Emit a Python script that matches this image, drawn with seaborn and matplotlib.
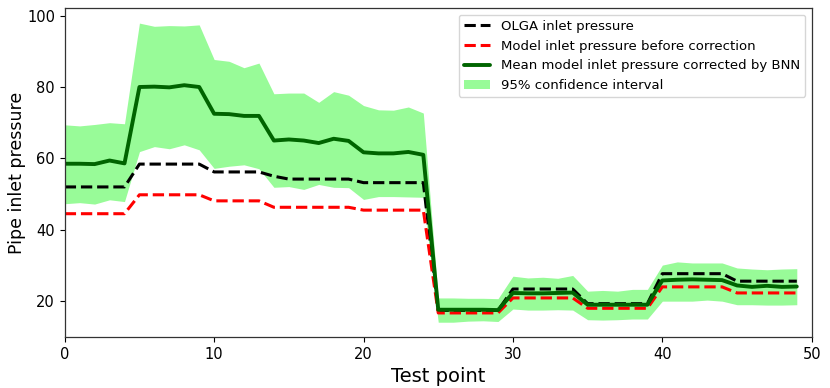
import numpy as np
import pandas as pd
import matplotlib
matplotlib.use("Agg")
import matplotlib.pyplot as plt
import seaborn as sns

test_point = list(range(50))
olga = [52.0, 52.0, 52.0, 52.0, 52.0, 58.4, 58.4, 58.4, 58.4, 58.4,
        56.2, 56.2, 56.2, 56.2, 55.0, 54.2, 54.2, 54.2, 54.2, 54.2,
        53.2, 53.2, 53.2, 53.2, 53.2, 17.4, 17.4, 17.4, 17.4, 17.4,
        23.4, 23.4, 23.4, 23.4, 23.4, 19.3, 19.3, 19.3, 19.3, 19.3,
        27.7, 27.7, 27.7, 27.7, 27.7, 25.6, 25.6, 25.6, 25.6, 25.6]
model = [44.5, 44.5, 44.5, 44.5, 44.5, 49.8, 49.8, 49.8, 49.8, 49.8,
         48.1, 48.1, 48.1, 48.1, 46.3, 46.3, 46.3, 46.3, 46.3, 46.3,
         45.5, 45.5, 45.5, 45.5, 45.5, 16.7, 16.7, 16.7, 16.7, 16.7,
         20.9, 20.9, 20.9, 20.9, 20.9, 18.0, 18.0, 18.0, 18.0, 18.0,
         24.0, 24.0, 24.0, 24.0, 24.0, 22.3, 22.3, 22.3, 22.3, 22.3]
bnn_mean = [58.5, 58.5, 58.4, 59.4, 58.6, 80.0, 80.1, 79.9, 80.5, 80.0,
            72.5, 72.4, 71.9, 71.9, 65.0, 65.3, 65.0, 64.3, 65.5, 64.9,
            61.7, 61.4, 61.4, 61.8, 61.0, 17.6, 17.6, 17.6, 17.6, 17.5,
            22.3, 22.2, 22.2, 22.3, 22.4, 19.0, 19.0, 19.0, 19.0, 19.0,
            25.8, 26.0, 26.1, 26.0, 25.9, 24.4, 24.0, 24.3, 24.0, 24.1]
ci_upper = [69.4, 69.1, 69.5, 70.0, 69.7, 97.9, 97.0, 97.2, 97.1, 97.4,
            87.7, 87.2, 85.4, 86.7, 78.1, 78.3, 78.3, 75.7, 78.7, 77.7,
            74.8, 73.6, 73.5, 74.4, 72.7, 20.9, 20.9, 20.8, 20.8, 20.7,
            27.0, 26.5, 26.7, 26.4, 27.2, 22.8, 23.0, 22.8, 23.3, 23.3,
            30.1, 31.0, 30.7, 30.7, 30.7, 29.3, 29.0, 28.8, 29.0, 29.1]
ci_lower = [47.3, 47.6, 47.2, 48.4, 47.9, 61.9, 63.3, 62.7, 63.8, 62.4,
            57.2, 57.8, 58.2, 57.1, 51.9, 52.1, 51.3, 52.7, 51.9, 51.8,
            48.5, 49.3, 49.3, 49.2, 49.1, 14.1, 14.1, 14.4, 14.5, 14.3,
            17.8, 17.5, 17.5, 17.6, 17.5, 14.8, 14.7, 14.8, 15.0, 15.0,
            20.0, 20.0, 20.0, 20.3, 20.0, 19.0, 19.0, 18.9, 18.9, 19.0]

sns.set_style("ticks")
plt.rcParams['font.family'] = ['DejaVu Sans']
plt.rcParams['text.color'] = 'black'
plt.rcParams['axes.labelcolor'] = 'black'
plt.rcParams['xtick.color'] = 'black'
plt.rcParams['ytick.color'] = 'black'

fig = plt.figure(figsize=(8.3, 3.88), dpi=100)
ax = fig.add_axes([0.078, 0.131, 0.900, 0.848])

ax.fill_between(test_point, ci_lower, ci_upper, color='palegreen',
                linewidth=0, label='95% confidence interval')
sns.lineplot(x=test_point, y=olga, ax=ax, color='k', linestyle='--',
             linewidth=2.2, label='OLGA inlet pressure')
sns.lineplot(x=test_point, y=model, ax=ax, color='r', linestyle='--',
             linewidth=2.2, label='Model inlet pressure before correction')
sns.lineplot(x=test_point, y=bnn_mean, ax=ax, color='darkgreen', linestyle='-',
             linewidth=2.8, label='Mean model inlet pressure corrected by BNN')

ax.set_xlim(0, 50)
ax.set_xlabel('Test point', fontsize=14)
ax.set_ylabel('Pipe inlet pressure', fontsize=12.5, labelpad=0.5)
ax.tick_params(axis='both', labelsize=10.5, direction='out')
for s in ax.spines.values():
    s.set_color('#333333')
    s.set_linewidth(0.9)

handles, labels = ax.get_legend_handles_labels()
order = [labels.index(l) for l in ['OLGA inlet pressure',
                                   'Model inlet pressure before correction',
                                   'Mean model inlet pressure corrected by BNN',
                                   '95% confidence interval']]
ax.legend([handles[i] for i in order], [labels[i] for i in order],
          loc='upper right', fontsize=9.5, frameon=True)

fig.savefig('out.png', dpi=100)
